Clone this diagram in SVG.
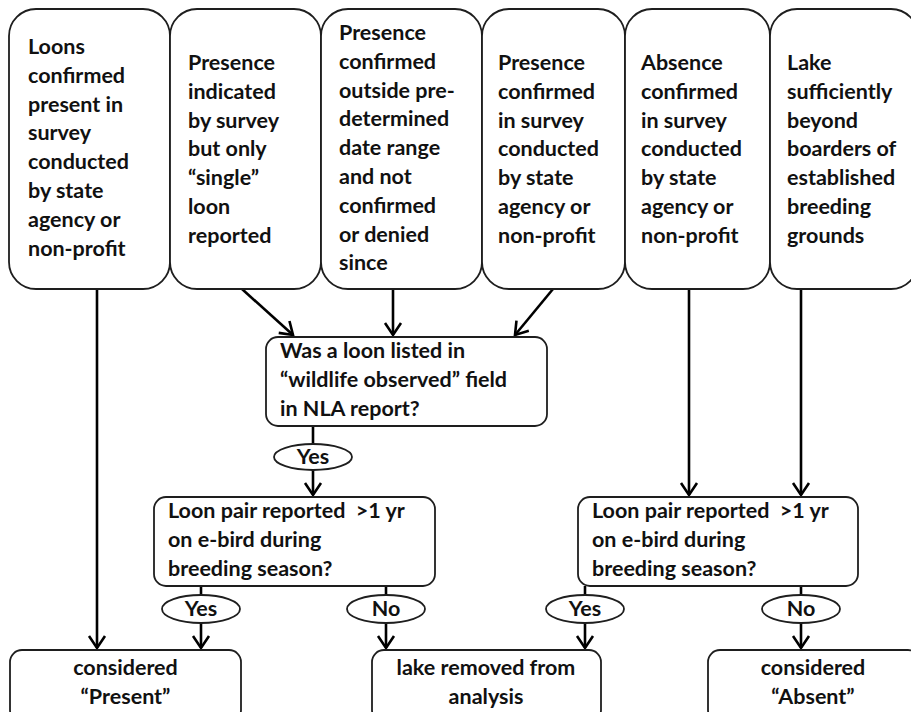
<svg xmlns="http://www.w3.org/2000/svg" width="911" height="712" viewBox="0 0 911 712">
<defs>
<style>
.box{fill:#fff;stroke:#1e1e1e;stroke-width:1.8}
.t{font-family:Lato,"Liberation Sans",sans-serif;font-weight:bold;font-size:21.5px;fill:#111}
.c{text-anchor:middle}
.con{fill:none;stroke:#000;stroke-width:2.6}
</style>
<marker id="arr" markerUnits="userSpaceOnUse" markerWidth="30" markerHeight="30" refX="0" refY="0" viewBox="-15 -15 30 30" orient="auto">
<path d="M-12,-8 L0,0 L-12,8" fill="none" stroke="#000" stroke-width="2.6"/>
</marker>
</defs>
<rect width="911" height="712" fill="#fff"/>
<g id="connectors">
<line class="con" x1="97" y1="289" x2="97" y2="648" marker-end="url(#arr)"/>
<line class="con" x1="242" y1="289" x2="293" y2="335" marker-end="url(#arr)"/>
<line class="con" x1="393" y1="289" x2="393" y2="335" marker-end="url(#arr)"/>
<line class="con" x1="553" y1="289" x2="515" y2="335" marker-end="url(#arr)"/>
<line class="con" x1="689" y1="289" x2="689" y2="495" marker-end="url(#arr)"/>
<line class="con" x1="801" y1="289" x2="801" y2="495" marker-end="url(#arr)"/>
<line class="con" x1="313" y1="426" x2="313" y2="444"/>
<line class="con" x1="313" y1="470" x2="313" y2="495" marker-end="url(#arr)"/>
<line class="con" x1="201" y1="586" x2="201" y2="595"/>
<line class="con" x1="201" y1="623" x2="201" y2="648" marker-end="url(#arr)"/>
<line class="con" x1="386" y1="586" x2="386" y2="595"/>
<line class="con" x1="386" y1="623" x2="386" y2="648" marker-end="url(#arr)"/>
<line class="con" x1="585" y1="586" x2="585" y2="595"/>
<line class="con" x1="585" y1="623" x2="585" y2="648" marker-end="url(#arr)"/>
<line class="con" x1="801" y1="586" x2="801" y2="595"/>
<line class="con" x1="801" y1="623" x2="801" y2="648" marker-end="url(#arr)"/>
</g>
<g id="n1">
<rect class="box" x="9" y="9" width="161" height="280" rx="27"/>
<text class="t" x="28" y="54"><tspan x="28">Loons</tspan><tspan x="28" dy="28.8">confirmed</tspan><tspan x="28" dy="28.8">present in</tspan><tspan x="28" dy="28.8">survey</tspan><tspan x="28" dy="28.8">conducted</tspan><tspan x="28" dy="28.8">by state</tspan><tspan x="28" dy="28.8">agency or</tspan><tspan x="28" dy="28.8">non-profit</tspan></text>
</g>
<g id="n2">
<rect class="box" x="170" y="9" width="151" height="280" rx="27"/>
<text class="t" x="188" y="70"><tspan x="188">Presence</tspan><tspan x="188" dy="28.8">indicated</tspan><tspan x="188" dy="28.8">by survey</tspan><tspan x="188" dy="28.8">but only</tspan><tspan x="188" dy="28.8">“single”</tspan><tspan x="188" dy="28.8">loon</tspan><tspan x="188" dy="28.8">reported</tspan></text>
</g>
<g id="n3">
<rect class="box" x="321" y="9" width="161" height="280" rx="27"/>
<text class="t" x="339" y="40"><tspan x="339">Presence</tspan><tspan x="339" dy="28.8">confirmed</tspan><tspan x="339" dy="28.8">outside pre-</tspan><tspan x="339" dy="28.8">determined</tspan><tspan x="339" dy="28.8">date range</tspan><tspan x="339" dy="28.8">and not</tspan><tspan x="339" dy="28.8">confirmed</tspan><tspan x="339" dy="28.8">or denied</tspan><tspan x="339" dy="28.8">since</tspan></text>
</g>
<g id="n4">
<rect class="box" x="482" y="9" width="143" height="280" rx="27"/>
<text class="t" x="498" y="70"><tspan x="498">Presence</tspan><tspan x="498" dy="28.8">confirmed</tspan><tspan x="498" dy="28.8">in survey</tspan><tspan x="498" dy="28.8">conducted</tspan><tspan x="498" dy="28.8">by state</tspan><tspan x="498" dy="28.8">agency or</tspan><tspan x="498" dy="28.8">non-profit</tspan></text>
</g>
<g id="n5">
<rect class="box" x="625" y="9" width="145" height="280" rx="27"/>
<text class="t" x="641" y="70"><tspan x="641">Absence</tspan><tspan x="641" dy="28.8">confirmed</tspan><tspan x="641" dy="28.8">in survey</tspan><tspan x="641" dy="28.8">conducted</tspan><tspan x="641" dy="28.8">by state</tspan><tspan x="641" dy="28.8">agency or</tspan><tspan x="641" dy="28.8">non-profit</tspan></text>
</g>
<g id="n6">
<rect class="box" x="770" y="9" width="148" height="280" rx="27"/>
<text class="t" x="787" y="70"><tspan x="787">Lake</tspan><tspan x="787" dy="28.8">sufficiently</tspan><tspan x="787" dy="28.8">beyond</tspan><tspan x="787" dy="28.8">boarders of</tspan><tspan x="787" dy="28.8">established</tspan><tspan x="787" dy="28.8">breeding</tspan><tspan x="787" dy="28.8">grounds</tspan></text>
</g>
<g id="q1">
<rect class="box" x="266" y="337" width="281" height="89" rx="12"/>
<text class="t" x="280" y="358"><tspan x="280">Was a loon listed in</tspan><tspan x="280" dy="28.8">“wildlife observed” field</tspan><tspan x="280" dy="28.8">in NLA report?</tspan></text>
</g>
<g id="yes1">
<ellipse class="box" cx="313" cy="457" rx="39" ry="13"/>
<text class="t c" x="313" y="464">Yes</text>
</g>
<g id="q2">
<rect class="box" x="154" y="497" width="281" height="89" rx="12"/>
<text class="t" x="168" y="518" xml:space="preserve"><tspan x="168">Loon pair reported  &gt;1 yr</tspan><tspan x="168" dy="29">on e-bird during</tspan><tspan x="168" dy="29">breeding season?</tspan></text>
</g>
<g id="q3">
<rect class="box" x="578" y="497" width="280" height="89" rx="12"/>
<text class="t" x="592" y="518" xml:space="preserve"><tspan x="592">Loon pair reported  &gt;1 yr</tspan><tspan x="592" dy="29">on e-bird during</tspan><tspan x="592" dy="29">breeding season?</tspan></text>
</g>
<g id="yes2">
<ellipse class="box" cx="201" cy="609" rx="39" ry="14"/>
<text class="t c" x="201" y="616">Yes</text>
</g>
<g id="no2">
<ellipse class="box" cx="386" cy="609" rx="39" ry="14"/>
<text class="t c" x="386" y="616">No</text>
</g>
<g id="yes3">
<ellipse class="box" cx="585" cy="609" rx="39" ry="14"/>
<text class="t c" x="585" y="616">Yes</text>
</g>
<g id="no3">
<ellipse class="box" cx="801" cy="609" rx="39" ry="14"/>
<text class="t c" x="801" y="616">No</text>
</g>
<g id="present">
<rect class="box" x="10" y="650" width="231" height="72" rx="12"/>
<text class="t c" x="125.5" y="675"><tspan x="125.5">considered</tspan><tspan x="125.5" dy="29">“Present”</tspan></text>
</g>
<g id="removed">
<rect class="box" x="372" y="650" width="229" height="72" rx="12"/>
<text class="t c" x="486" y="675"><tspan x="486">lake removed from</tspan><tspan x="486" dy="29">analysis</tspan></text>
</g>
<g id="absent">
<rect class="box" x="708" y="650" width="212" height="72" rx="12"/>
<text class="t c" x="813" y="675"><tspan x="813">considered</tspan><tspan x="813" dy="29">“Absent”</tspan></text>
</g>
</svg>
